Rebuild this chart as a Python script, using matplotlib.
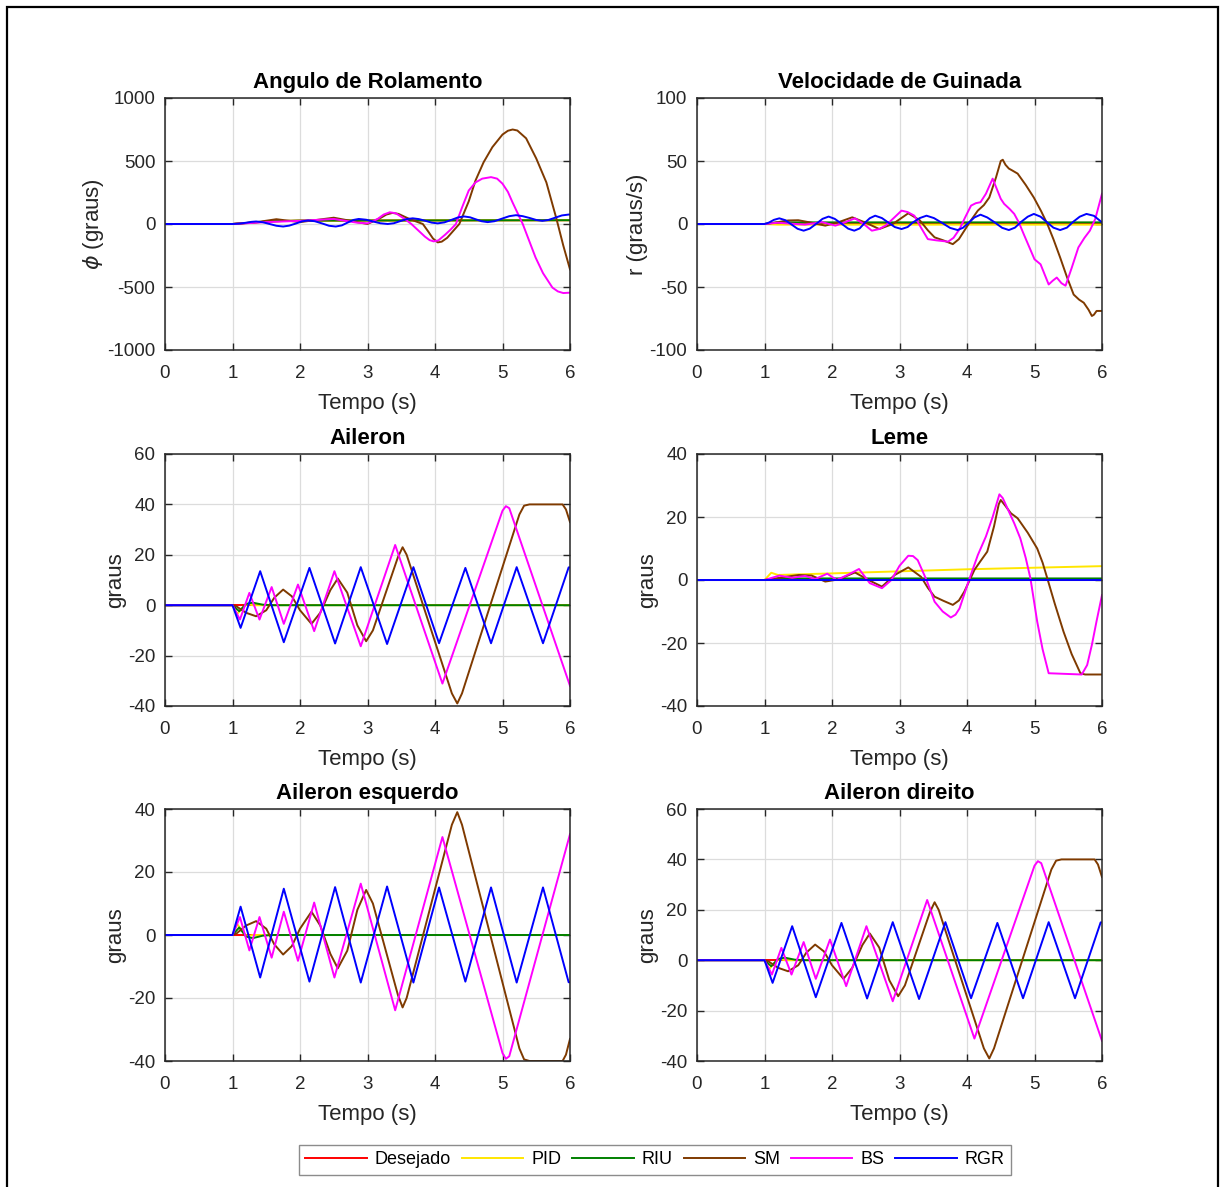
import matplotlib
matplotlib.use("Agg")
import matplotlib.pyplot as plt
from matplotlib.patches import Rectangle
import numpy as np

plt.rcParams["font.family"] = ["Liberation Sans", "DejaVu Sans"]
plt.rcParams["mathtext.fontset"] = "dejavusans"
plt.rcParams["axes.unicode_minus"] = False

# ============================================================
# 1. DATA (time in s)
# ============================================================

SERIES = ["Desejado", "PID", "RIU", "SM", "BS", "RGR"]
COLORS = ["#ff0000", "#ffe600", "#008000", "#7f3a00", "#ff00ff", "#0000ff"]

# --- Angulo de Rolamento (graus)
roll_ref_t = [0, 1.0, 1.3, 1.6, 2.0, 6.0]
roll_ref = [0, 0, 12, 22, 27, 30]
roll_pid_t = [0, 1.0, 1.3, 1.6, 2.0, 6.0]
roll_pid = [0, 0, 12, 22, 27, 30]
roll_riu_t = [0, 1.0, 1.3, 1.6, 2.0, 6.0]
roll_riu = [0, 0, 12, 22, 27, 30]
roll_sm_t = [0, 1.0, 1.3, 1.65, 2.0, 2.5, 2.8, 3.0, 3.1, 3.2, 3.28, 3.37, 3.46,
             3.6, 3.72, 3.82, 3.9, 3.97, 4.04, 4.1, 4.18, 4.27, 4.36, 4.5, 4.6,
             4.72, 4.85, 5.0, 5.08, 5.15, 5.22, 5.35, 5.5, 5.65, 5.8, 5.9, 6.0]
roll_sm = [0, 0, 10, 38, 15, 50, 20, 0, 25, 50, 75, 88, 80,
           45, 20, 0, -60, -115, -146, -140, -110, -55, 0, 180, 345,
           490, 610, 710, 740, 750, 742, 680, 520, 330, 40, -170, -360]
roll_bs_t = [0, 1.0, 1.5, 2.0, 2.5, 2.85, 3.0, 3.15, 3.24, 3.33, 3.42, 3.55,
             3.65, 3.75, 3.85, 3.92, 3.98, 4.05, 4.15, 4.23, 4.31, 4.4, 4.5,
             4.6, 4.7, 4.83, 4.92, 5.0, 5.08, 5.15, 5.3, 5.4, 5.49, 5.6, 5.74,
             5.82, 5.9, 6.0]
roll_bs = [0, 0, 15, 25, 40, 10, 5, 40, 75, 93, 85, 40,
           0, -50, -100, -128, -138, -130, -85, -45, 0, 130, 266,
           330, 360, 372, 360, 320, 255, 170, 0, -140, -266, -390, -505,
           -535, -548, -545]
roll_rgr_t = [0, 1.0, 1.1, 1.2, 1.28, 1.35, 1.45, 1.55, 1.65, 1.75, 1.84, 1.94,
              2.03, 2.12, 2.22, 2.33, 2.43, 2.53, 2.62, 2.7, 2.79, 2.87, 2.98,
              3.08, 3.19, 3.3, 3.39, 3.48, 3.58, 3.67, 3.76, 3.86, 3.95, 4.04,
              4.14, 4.24, 4.34, 4.43, 4.52, 4.6, 4.69, 4.78, 4.88, 4.99, 5.1,
              5.2, 5.3, 5.4, 5.5, 5.59, 5.68, 5.78, 5.88, 5.98, 6.0]
roll_rgr = [0, 0, 3, 10, 17, 20, 14, 0, -14, -20, -13, 4,
            21, 28, 22, 4, -14, -20, -11, 10, 32, 40, 34,
            20, 6, 0, 6, 22, 39, 45, 39, 25, 11, 5,
            13, 32, 52, 60, 53, 38, 22, 15, 22, 42, 62,
            70, 62, 48, 32, 25, 32, 50, 68, 75, 75]

# --- Velocidade de Guinada (graus/s)
yaw_ref_t = [0, 6.0]
yaw_ref = [0, 0]
yaw_pid_t = [0, 1.0, 1.2, 6.0]
yaw_pid = [0, 0, -0.5, -0.5]
yaw_riu_t = [0, 1.0, 1.2, 6.0]
yaw_riu = [0, 0, 1.3, 1.3]
yaw_sm_t = [0, 1.0, 1.2, 1.35, 1.5, 1.7, 1.9, 2.1, 2.3, 2.5, 2.7, 2.9, 3.13,
            3.3, 3.42, 3.52, 3.65, 3.79, 3.88, 3.96, 4.06, 4.16, 4.25, 4.33,
            4.43, 4.5, 4.53, 4.57, 4.62, 4.67, 4.75, 4.87, 4.99, 5.1, 5.19,
            5.28, 5.38, 5.48, 5.58, 5.66, 5.73, 5.8, 5.85, 5.88, 5.92, 6.0]
yaw_sm = [0, 0, 1.5, 2.8, 3, 1, -1.3, 1.5, 5.3, 1, -4, 0, 8.5,
          3, -5, -10.6, -13, -16, -12, -5.3, 3, 10.6, 15, 21,
          37, 50, 51, 47, 44, 42.5, 40, 31, 21, 10, 0,
          -12, -26.6, -42, -56, -60, -62.5, -68, -73, -72, -69, -69]
yaw_bs_t = [0, 1.0, 1.2, 1.6, 1.85, 2.05, 2.2, 2.34, 2.47, 2.59, 2.7, 2.8, 2.92,
            3.03, 3.12, 3.22, 3.32, 3.42, 3.55, 3.72, 3.8, 3.89, 3.97, 4.06,
            4.13, 4.2, 4.28, 4.38, 4.44, 4.5, 4.55, 4.63, 4.7, 4.77, 4.84,
            4.92, 5.0, 5.09, 5.15, 5.21, 5.27, 5.33, 5.4, 5.46, 5.55, 5.65,
            5.74, 5.82, 5.9, 6.0]
yaw_bs = [0, 0, 1, -0.5, 1.5, -1.3, 1.5, 4.5, 0, -5.3, -4, -1, 5,
          10.6, 9.5, 6.6, -3, -12, -13, -14, -11, -4, 5, 14.6,
          16.5, 17.3, 24, 36, 28, 20, 16, 12, 8, 1, -8,
          -18, -28, -32, -40, -48, -45, -42.5, -47, -49, -35, -18.6,
          -11, -5.3, 4, 24]
yaw_rgr_t = [0, 1.0, 1.06, 1.14, 1.22, 1.31, 1.4, 1.49, 1.58, 1.67, 1.77, 1.86,
             1.95, 2.04, 2.14, 2.24, 2.33, 2.41, 2.48, 2.56, 2.64, 2.74, 2.83,
             2.93, 3.03, 3.12, 3.2, 3.3, 3.4, 3.51, 3.63, 3.75, 3.86, 3.94,
             4.03, 4.11, 4.2, 4.3, 4.41, 4.52, 4.62, 4.71, 4.8, 4.9, 4.99,
             5.09, 5.18, 5.28, 5.38, 5.48, 5.57, 5.67, 5.77, 5.88, 6.0]
yaw_rgr = [0, 0, 1.0, 3.3, 4.5, 3.0, -0.4, -3.8, -5.3, -3.7, 0.3, 4.1,
           5.9, 4.1, 0.3, -3.7, -5.3, -3.5, 0.6, 4.6, 6.6, 4.7, 1.3,
           -2.4, -4, -2.4, 1.3, 4.7, 6.6, 4.7, 0.9, -3.1, -4.8, -3.0,
           1.3, 5.2, 7.4, 5.2, 1.3, -3.0, -4.8, -2.9, 1.6, 5.8, 8,
           5.8, 1.6, -2.9, -4.8, -2.9, 1.6, 5.8, 8, 6.5, 1.3]

# --- Aileron (graus); the right aileron follows it, the left one mirrors it
ail_ref_t = [0, 6.0]
ail_ref = [0, 0]
ail_pid_t = [0, 1.0, 1.07, 1.15, 1.22, 1.3, 6.0]
ail_pid = [0, 0, -3.5, -1, 0.5, 0, 0]
ail_riu_t = [0, 1.0, 1.1, 1.2, 1.3, 1.45, 1.6, 6.0]
ail_riu = [0, 0, -2.4, 0.5, 1.0, 0.2, 0, 0]
ail_sm_t = [0, 1.0, 1.06, 1.2, 1.35, 1.5, 1.62, 1.75, 1.88, 2.0, 2.17, 2.3,
            2.45, 2.56, 2.7, 2.85, 2.98, 3.08, 3.45, 3.52, 3.58, 4.25, 4.33,
            4.4, 5.25, 5.32, 5.4, 5.89, 5.94, 6.0]
ail_sm = [0, 0, -0.5, -3, -4.4, -2, 3, 6.2, 3.5, -2, -7.4, -3,
          6, 10.6, 5, -8, -14.3, -10, 19, 23, 20, -35, -39,
          -35, 36, 39.5, 40, 40, 38, 33]
ail_bs_t = [0, 1.0, 1.11, 1.25, 1.4, 1.58, 1.76, 1.97, 2.21, 2.51, 2.9, 3.41,
            4.11, 5.0, 5.05, 5.1, 6.0]
ail_bs = [0, 0, -5.7, 4.9, -5.7, 7.2, -7.4, 8.2, -10.3, 13.5, -16.3, 23.9,
          -31.1, 37.5, 39.3, 38.5, -32]
ail_rgr_t = [0, 1.0, 1.12, 1.41, 1.76, 2.14, 2.52, 2.9, 3.29, 3.68, 4.06, 4.45,
             4.83, 5.21, 5.6, 5.98, 6.0]
ail_rgr = [0, 0, -9, 13.5, -14.7, 14.8, -15.2, 15.1, -15.4, 15.1, -15.1, 14.8,
           -15.1, 15.1, -15.1, 15, 15]

# --- Leme (graus)
rud_ref_t = [0, 6.0]
rud_ref = [0, 0]
rud_pid_t = [0, 1.0, 1.1, 1.2, 2.0, 4.0, 6.0]
rud_pid = [0, 0, 2.3, 1.6, 2.1, 3.4, 4.4]
rud_riu_t = [0, 1.0, 1.2, 6.0]
rud_riu = [0, 0, 0.5, 0.5]
rud_sm_t = [0, 1.0, 1.15, 1.31, 1.51, 1.7, 1.9, 2.1, 2.34, 2.54, 2.74, 2.93,
            3.13, 3.32, 3.42, 3.52, 3.65, 3.79, 3.88, 3.96, 4.03, 4.11, 4.2,
            4.3, 4.4, 4.47, 4.5, 4.57, 4.65, 4.75, 4.9, 5.04, 5.12, 5.19, 5.3,
            5.43, 5.55, 5.68, 5.75, 6.0]
rud_sm = [0, 0, 0.4, 1, 1.6, 1.4, -0.5, 0.2, 2.4, 0, -2.1, 1.6,
          4, 1, -2.5, -5.3, -6.6, -7.9, -6.5, -3.7, -0.5, 3.2, 6,
          9, 17, 24, 25.4, 23.5, 21.2, 19.6, 15, 10, 5.5, 0.5, -7.5,
          -16.4, -23.5, -29.6, -30, -30]
rud_bs_t = [0, 1.0, 1.22, 1.41, 1.6, 1.75, 1.93, 2.07, 2.25, 2.4, 2.56, 2.74,
            2.88, 3.0, 3.13, 3.2, 3.27, 3.4, 3.52, 3.64, 3.76, 3.83, 3.89,
            3.96, 4.03, 4.16, 4.28, 4.38, 4.48, 4.53, 4.6, 4.7, 4.79, 4.87,
            4.94, 5.04, 5.12, 5.21, 5.7, 5.78, 5.85, 5.92, 6.0]
rud_bs = [0, 0, 1.4, 0.7, 1.3, 0.3, 2, 0, 1.8, 3.5, -1, -2.6,
          0, 4.5, 7.7, 7.6, 6.3, 0, -6.9, -10, -11.9, -11, -9,
          -4.5, 0, 7.9, 13.8, 20, 27.2, 26, 22.7, 18, 13.2, 7,
          0.5, -13.2, -22, -29.6, -30, -27, -20.6, -13, -4.8]
rud_rgr_t = [0, 6.0]
rud_rgr = [0, 0]


# ============================================================
# 2. PANEL DEFINITIONS
# ============================================================

ail_t = [ail_ref_t, ail_pid_t, ail_riu_t, ail_sm_t, ail_bs_t, ail_rgr_t]
ail_v = [ail_ref, ail_pid, ail_riu, ail_sm, ail_bs, ail_rgr]

panels = [
    {
        "title": "Angulo de Rolamento", "ylabel": r"$\phi$ (graus)",
        "ylim": (-1000, 1000), "yticks": np.arange(-1000, 1001, 500),
        "t": [roll_ref_t, roll_pid_t, roll_riu_t, roll_sm_t, roll_bs_t, roll_rgr_t],
        "v": [roll_ref, roll_pid, roll_riu, roll_sm, roll_bs, roll_rgr],
        "sign": 1,
    },
    {
        "title": "Velocidade de Guinada", "ylabel": "r (graus/s)",
        "ylim": (-100, 100), "yticks": np.arange(-100, 101, 50),
        "t": [yaw_ref_t, yaw_pid_t, yaw_riu_t, yaw_sm_t, yaw_bs_t, yaw_rgr_t],
        "v": [yaw_ref, yaw_pid, yaw_riu, yaw_sm, yaw_bs, yaw_rgr],
        "sign": 1,
    },
    {
        "title": "Aileron", "ylabel": "graus",
        "ylim": (-40, 60), "yticks": np.arange(-40, 61, 20),
        "t": ail_t, "v": ail_v, "sign": 1,
    },
    {
        "title": "Leme", "ylabel": "graus",
        "ylim": (-40, 40), "yticks": np.arange(-40, 41, 20),
        "t": [rud_ref_t, rud_pid_t, rud_riu_t, rud_sm_t, rud_bs_t, rud_rgr_t],
        "v": [rud_ref, rud_pid, rud_riu, rud_sm, rud_bs, rud_rgr],
        "sign": 1,
    },
    {
        "title": "Aileron esquerdo", "ylabel": "graus",
        "ylim": (-40, 40), "yticks": np.arange(-40, 41, 20),
        "t": ail_t, "v": ail_v, "sign": -1,
    },
    {
        "title": "Aileron direito", "ylabel": "graus",
        "ylim": (-40, 60), "yticks": np.arange(-40, 61, 20),
        "t": ail_t, "v": ail_v, "sign": 1,
    },
]


# ============================================================
# 3. FIGURE
# ============================================================

W, H = 1220, 1187
fig = plt.figure(figsize=(W / 100, H / 100), dpi=100)

lefts = [165, 697]
tops = [98, 454, 809]
ax_w, ax_h = 405, 252
text_c = "#262626"

handles = None
for i, p in enumerate(panels):
    row, col = divmod(i, 2)
    ax = fig.add_axes([lefts[col] / W, 1 - (tops[row] + ax_h) / H, ax_w / W, ax_h / H])
    lines = []
    for name, color, tt, vv in zip(SERIES, COLORS, p["t"], p["v"]):
        ln, = ax.plot(tt, p["sign"] * np.asarray(vv, dtype=float), color=color,
                      lw=1.4, label=name)
        lines.append(ln)
    if handles is None:
        handles = lines

    ax.set_xlim(0, 6)
    ax.set_ylim(*p["ylim"])
    ax.set_xticks(range(0, 7))
    ax.set_yticks(p["yticks"])
    ax.grid(True, color="#dcdcdc", lw=0.9)
    ax.set_axisbelow(True)
    ax.tick_params(direction="in", length=5, width=1.0, top=True, right=True,
                   labelsize=13.5, colors=text_c)
    ax.tick_params(axis="x", pad=11)
    ax.tick_params(axis="y", pad=7)
    for s in ax.spines.values():
        s.set_color(text_c)
        s.set_linewidth(1.1)
    ax.set_title(p["title"], fontsize=16, fontweight="bold", pad=7.5, color="black")
    ax.set_xlabel("Tempo (s)", fontsize=16, color=text_c, labelpad=8)
    ax.set_ylabel(p["ylabel"], fontsize=16, color=text_c, labelpad=1)

fig.legend(handles, SERIES, loc="center", bbox_to_anchor=(655 / W, 1 - 1160 / H),
           ncol=6, fontsize=13, frameon=True, fancybox=False, edgecolor="#8c8c8c",
           handlelength=3.4, handletextpad=0.45, columnspacing=0.6,
           borderpad=0.35, framealpha=1)

# outer border of the exported figure
fig.add_artist(Rectangle((6.5 / W, -0.02), (1218 - 6.5) / W, 1 - 7 / H + 0.02,
                         transform=fig.transFigure, fill=False,
                         edgecolor="black", lw=1.6))

fig.savefig("out.png", dpi=100)
plt.close(fig)
